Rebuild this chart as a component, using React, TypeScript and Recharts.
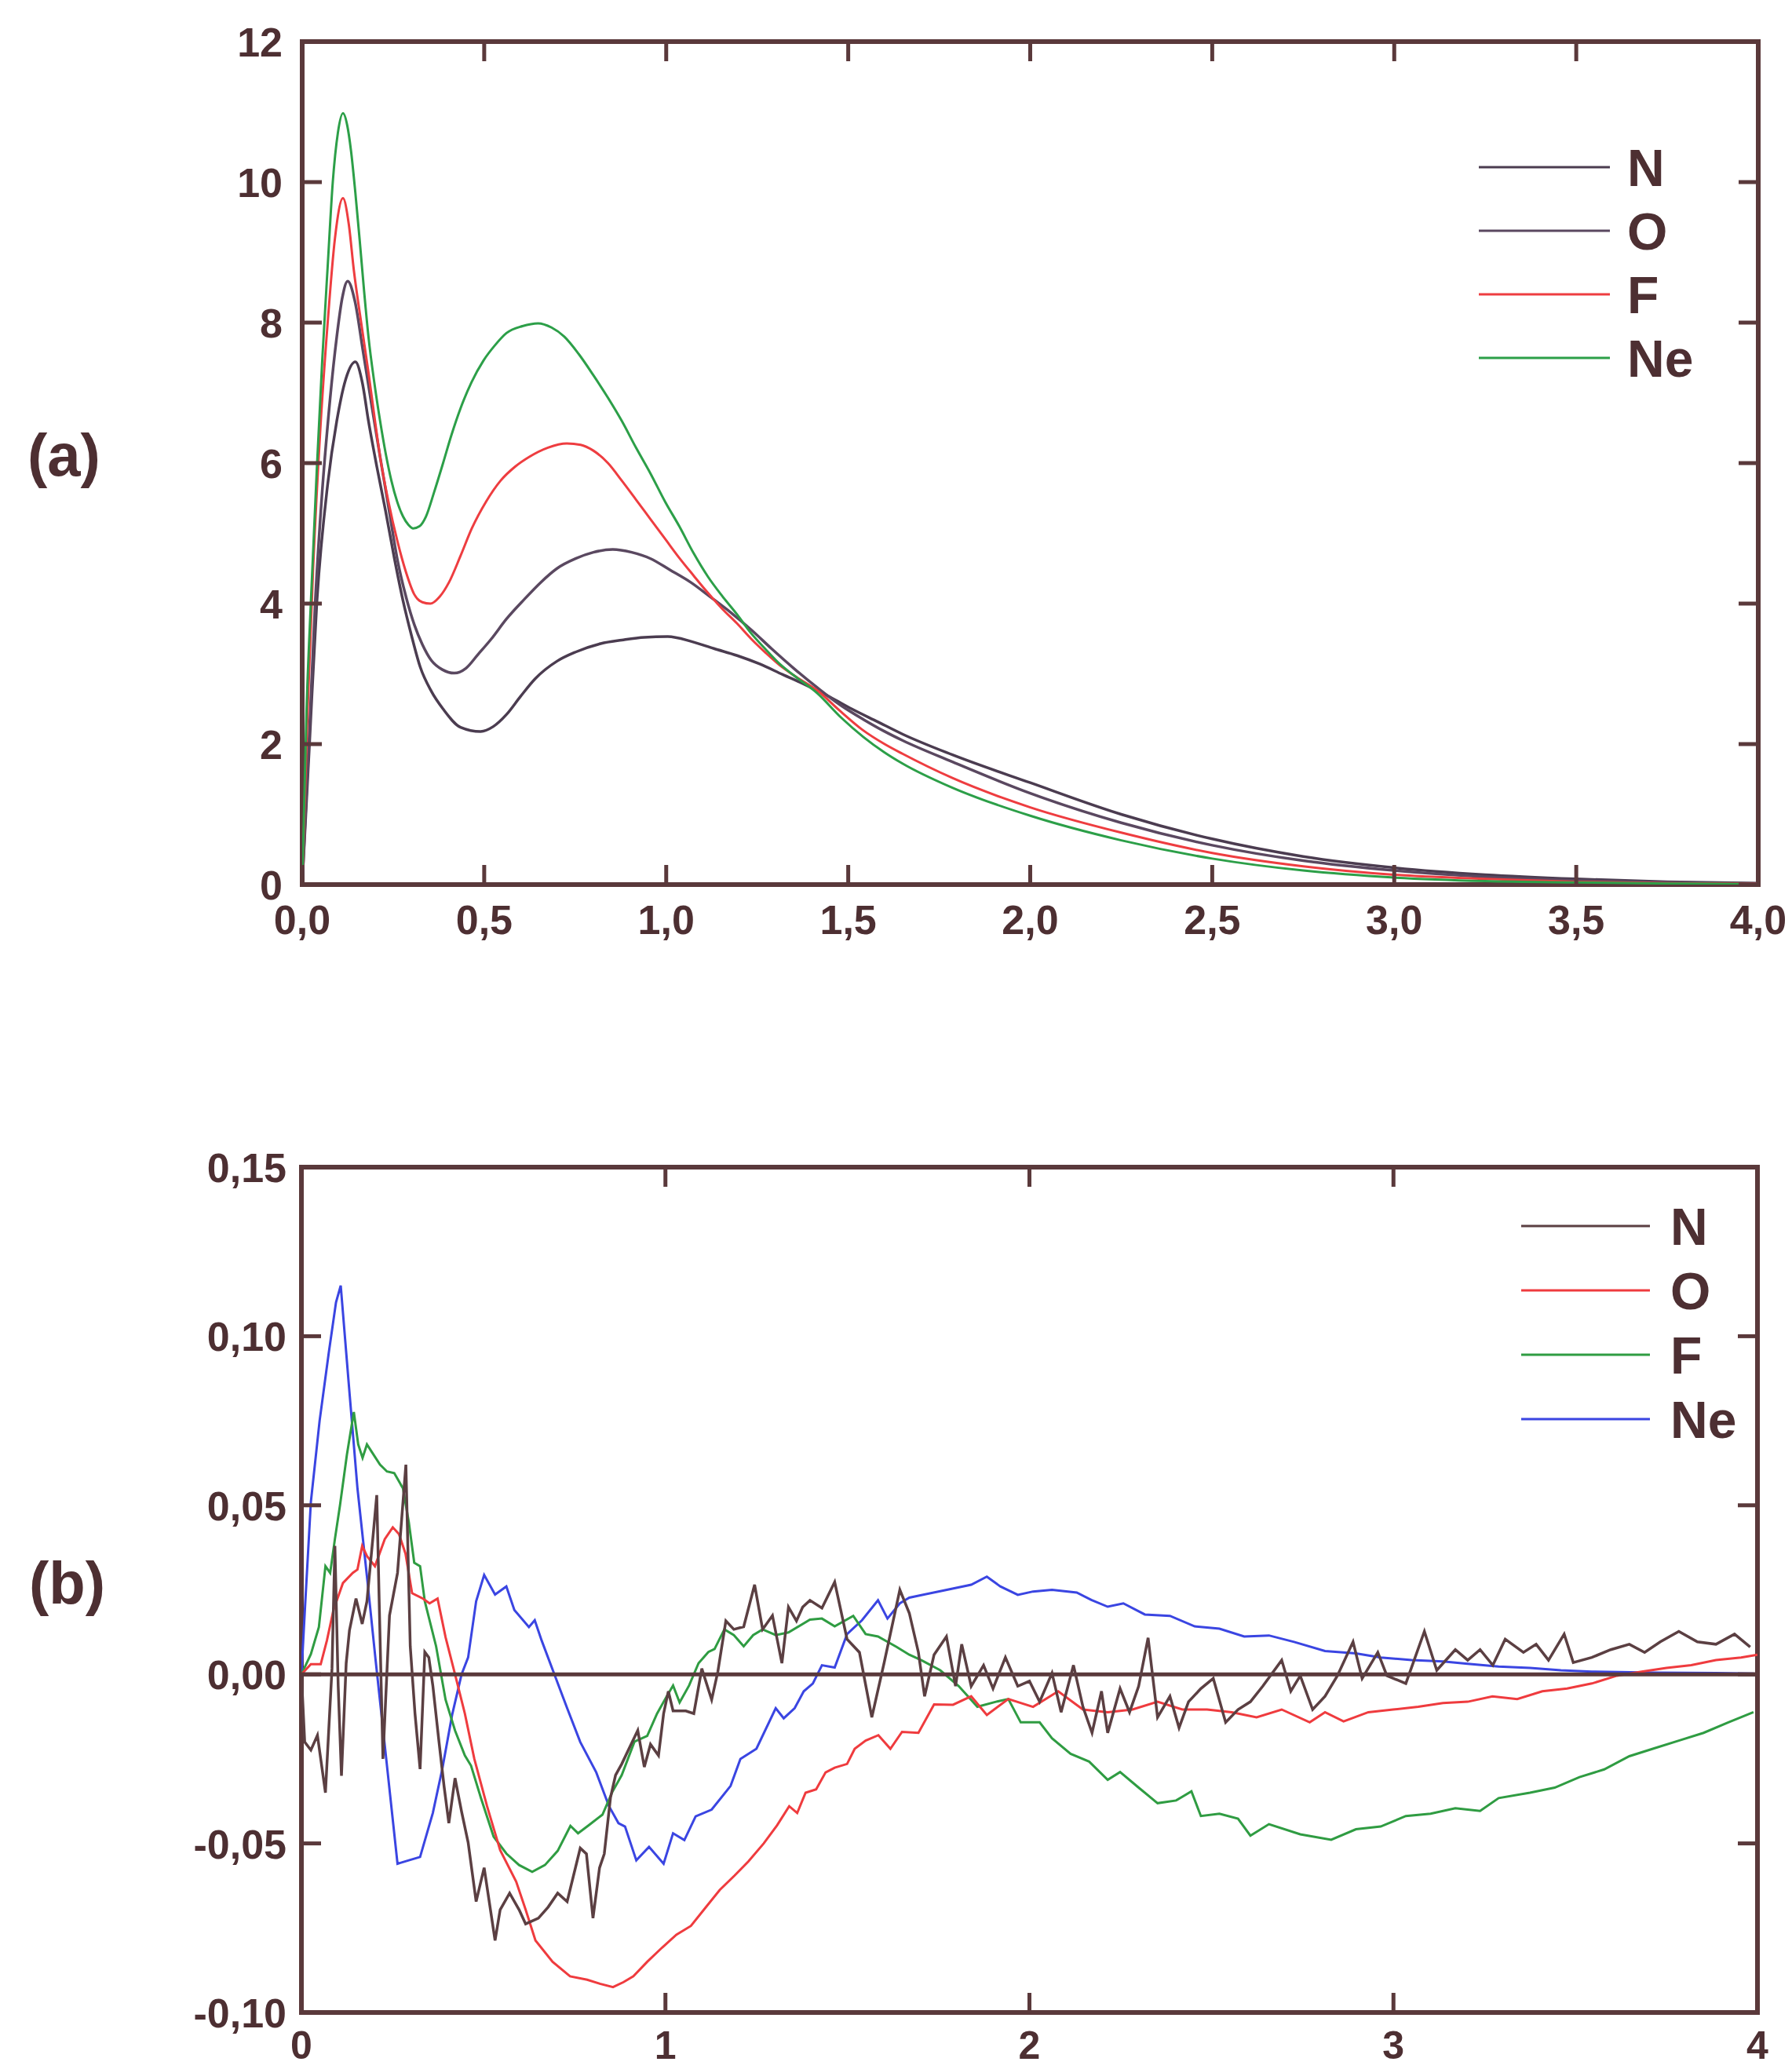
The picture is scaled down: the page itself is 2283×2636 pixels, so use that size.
import { LineChart, Line, XAxis, YAxis, ReferenceLine, ReferenceArea, Legend } from 'recharts';

type Pt = [number, number];

// panel (a): radial distributions, [r, value]
const nA: Pt[] = [
  [0, 0], [0.02, 2.0], [0.04, 4.0], [0.07, 5.7], [0.095, 6.6], [0.12, 7.2], [0.146, 7.44], [0.165, 7.15],
  [0.182, 6.6], [0.205, 5.95], [0.229, 5.32], [0.253, 4.65], [0.277, 4.04], [0.3, 3.55], [0.324, 3.1],
  [0.355, 2.75], [0.387, 2.5], [0.435, 2.24], [0.49, 2.18], [0.525, 2.25], [0.561, 2.42], [0.6, 2.68],
  [0.64, 2.93], [0.7, 3.18], [0.751, 3.31], [0.82, 3.43], [0.878, 3.48], [0.94, 3.52], [1.004, 3.53],
  [1.07, 3.46], [1.131, 3.36], [1.195, 3.26], [1.257, 3.14], [1.32, 2.99], [1.384, 2.84], [1.45, 2.67],
  [1.51, 2.5], [1.58, 2.32], [1.65, 2.14], [1.785, 1.85], [2.0, 1.45], [2.25, 1.0], [2.5, 0.65],
  [2.75, 0.4], [3.0, 0.24], [3.25, 0.14], [3.5, 0.08], [3.75, 0.04], [4.0, 0.02],
];
const oA: Pt[] = [
  [0, 0], [0.02, 2.2], [0.036, 4.04], [0.055, 5.6], [0.071, 6.6], [0.095, 7.8], [0.11, 8.35], [0.125, 8.59],
  [0.145, 8.3], [0.166, 7.63], [0.19, 6.85], [0.214, 6.09], [0.238, 5.35], [0.261, 4.64], [0.285, 4.1],
  [0.308, 3.7], [0.33, 3.42], [0.355, 3.19], [0.385, 3.06], [0.418, 3.01], [0.45, 3.08], [0.482, 3.27],
  [0.52, 3.5], [0.561, 3.78], [0.61, 4.06], [0.655, 4.3], [0.7, 4.5], [0.751, 4.64], [0.8, 4.73],
  [0.853, 4.77], [0.905, 4.73], [0.957, 4.64], [1.01, 4.48], [1.068, 4.3], [1.12, 4.1], [1.178, 3.87],
  [1.235, 3.62], [1.289, 3.36], [1.35, 3.08], [1.416, 2.8], [1.48, 2.55], [1.542, 2.35], [1.6, 2.18],
  [1.65, 2.05], [1.785, 1.75], [2.0, 1.3], [2.25, 0.88], [2.5, 0.56], [2.75, 0.34], [3.0, 0.2],
  [3.25, 0.11], [3.5, 0.06], [3.75, 0.03], [4.0, 0.015],
];
const fA: Pt[] = [
  [0, 0], [0.015, 2.5], [0.03, 4.5], [0.05, 6.5], [0.07, 8.0], [0.09, 9.2], [0.112, 9.77], [0.128, 9.4],
  [0.142, 8.74], [0.162, 8.0], [0.182, 7.29], [0.2, 6.6], [0.214, 6.09], [0.237, 5.45], [0.261, 4.9],
  [0.285, 4.45], [0.308, 4.13], [0.33, 4.02], [0.352, 4.0], [0.378, 4.1], [0.403, 4.3], [0.435, 4.68],
  [0.466, 5.07], [0.505, 5.45], [0.545, 5.75], [0.585, 5.95], [0.624, 6.09], [0.675, 6.22], [0.727, 6.28],
  [0.765, 6.26], [0.799, 6.18], [0.84, 6.0], [0.878, 5.75], [0.917, 5.48], [0.957, 5.2], [1.0, 4.9],
  [1.036, 4.65], [1.075, 4.4], [1.115, 4.15], [1.155, 3.92], [1.194, 3.72], [1.233, 3.5], [1.273, 3.3],
  [1.31, 3.13], [1.35, 2.98], [1.416, 2.76], [1.478, 2.47], [1.54, 2.2], [1.6, 2.0], [1.65, 1.86],
  [1.785, 1.52], [2.0, 1.1], [2.25, 0.74], [2.5, 0.45], [2.75, 0.26], [3.0, 0.14], [3.25, 0.08],
  [3.5, 0.04], [3.75, 0.02], [4.0, 0.01],
];
const neA: Pt[] = [
  [0, 0], [0.012, 2.5], [0.024, 4.04], [0.04, 5.9], [0.055, 7.46], [0.07, 8.8], [0.084, 10.0], [0.098, 10.7],
  [0.112, 10.98], [0.124, 10.8], [0.134, 10.45], [0.146, 9.85], [0.158, 9.17], [0.17, 8.45], [0.182, 7.8],
  [0.198, 7.15], [0.214, 6.6], [0.23, 6.12], [0.245, 5.75], [0.261, 5.45], [0.277, 5.24], [0.292, 5.12],
  [0.305, 5.07], [0.322, 5.1], [0.34, 5.24], [0.362, 5.58], [0.387, 6.0], [0.41, 6.4], [0.435, 6.78],
  [0.465, 7.15], [0.498, 7.46], [0.53, 7.68], [0.561, 7.85], [0.605, 7.95], [0.648, 7.99], [0.685, 7.93],
  [0.72, 7.8], [0.76, 7.55], [0.8, 7.25], [0.84, 6.93], [0.878, 6.6], [0.917, 6.22], [0.957, 5.85],
  [0.997, 5.45], [1.036, 5.1], [1.075, 4.72], [1.115, 4.38], [1.155, 4.1], [1.194, 3.85], [1.233, 3.58],
  [1.273, 3.35], [1.31, 3.15], [1.35, 2.98], [1.416, 2.72], [1.48, 2.38], [1.542, 2.1], [1.6, 1.88],
  [1.65, 1.72], [1.785, 1.38], [2.0, 0.98], [2.25, 0.63], [2.5, 0.37], [2.75, 0.2], [3.0, 0.1],
  [3.25, 0.05], [3.5, 0.03], [3.75, 0.015], [4.0, 0.005],
];

// panel (b): differences, [r, value]
const nB: Pt[] = [
  [0, 0], [0.009, -0.02], [0.026, -0.0224], [0.044, -0.018], [0.066, -0.035], [0.084, 0.0017], [0.092, 0.038],
  [0.101, -0.0033], [0.11, -0.03], [0.123, 0.0033], [0.132, 0.013], [0.15, 0.0224], [0.167, 0.0149],
  [0.18, 0.0216], [0.198, 0.0423], [0.207, 0.053], [0.214, 0.02], [0.224, -0.025], [0.242, 0.0174],
  [0.264, 0.03], [0.287, 0.062], [0.299, 0.0083], [0.312, -0.0116], [0.326, -0.028], [0.339, 0.0066],
  [0.35, 0.005], [0.361, -0.0033], [0.378, -0.02], [0.392, -0.0332], [0.405, -0.044], [0.422, -0.0307],
  [0.44, -0.0406], [0.458, -0.0497], [0.48, -0.0672], [0.502, -0.0572], [0.532, -0.0787], [0.546, -0.0696],
  [0.572, -0.0647], [0.598, -0.0696], [0.616, -0.0738], [0.651, -0.0721], [0.678, -0.0688], [0.704, -0.0647],
  [0.73, -0.0672], [0.766, -0.0514], [0.783, -0.0531], [0.801, -0.0721], [0.819, -0.0572], [0.832, -0.0531],
  [0.849, -0.0365], [0.863, -0.0298], [0.88, -0.0265], [0.898, -0.0224], [0.924, -0.0166], [0.942, -0.0274],
  [0.959, -0.0207], [0.981, -0.024], [0.995, -0.0116], [1.008, -0.005], [1.021, -0.0108], [1.056, -0.0108],
  [1.078, -0.0116], [1.1, 0.0017], [1.127, -0.0075], [1.144, 0.0008], [1.166, 0.0158], [1.188, 0.0133],
  [1.215, 0.0141], [1.245, 0.0265], [1.267, 0.0133], [1.294, 0.0174], [1.32, 0.0033], [1.338, 0.0199],
  [1.36, 0.0158], [1.377, 0.0199], [1.397, 0.0219], [1.43, 0.0196], [1.465, 0.0273], [1.499, 0.0104],
  [1.533, 0.0065], [1.567, -0.0127], [1.601, 0.0035], [1.644, 0.025], [1.67, 0.0181], [1.695, 0.0065],
  [1.712, -0.0065], [1.738, 0.0058], [1.772, 0.0112], [1.797, -0.0035], [1.814, 0.0089], [1.84, -0.0035],
  [1.874, 0.0027], [1.9, -0.0042], [1.934, 0.005], [1.968, -0.0035], [2.0, -0.002], [2.028, -0.0081],
  [2.062, 0.0004], [2.087, -0.0112], [2.121, 0.0027], [2.147, -0.0096], [2.172, -0.0173], [2.198, -0.005],
  [2.215, -0.0173], [2.249, -0.0042], [2.275, -0.0112], [2.3, -0.0035], [2.326, 0.0108], [2.352, -0.0127],
  [2.386, -0.0065], [2.411, -0.0158], [2.437, -0.0081], [2.471, -0.0042], [2.505, -0.0012], [2.539, -0.0142],
  [2.573, -0.0104], [2.607, -0.0081], [2.641, -0.0035], [2.693, 0.0042], [2.718, -0.005], [2.744, -0.0004],
  [2.778, -0.0104], [2.812, -0.0065], [2.846, -0.0004], [2.889, 0.0096], [2.914, -0.0012], [2.957, 0.0065],
  [2.982, -0.0004], [3.034, -0.0027], [3.085, 0.0127], [3.119, 0.0012], [3.17, 0.0073], [3.204, 0.0042],
  [3.238, 0.0073], [3.273, 0.0027], [3.307, 0.0104], [3.357, 0.0065], [3.392, 0.0089], [3.426, 0.0042],
  [3.469, 0.0119], [3.494, 0.0035], [3.545, 0.005], [3.597, 0.0073], [3.648, 0.0089], [3.69, 0.0065],
  [3.733, 0.0096], [3.784, 0.0127], [3.835, 0.0096], [3.886, 0.0089], [3.937, 0.0119], [3.98, 0.0081],
];
const oB: Pt[] = [
  [0, 0], [0.026, 0.003], [0.053, 0.003], [0.07, 0.01], [0.088, 0.019], [0.114, 0.027], [0.141, 0.03],
  [0.154, 0.031], [0.167, 0.038], [0.18, 0.035], [0.202, 0.032], [0.229, 0.04], [0.251, 0.0435],
  [0.268, 0.0415], [0.286, 0.0357], [0.304, 0.024], [0.334, 0.0224], [0.352, 0.021], [0.374, 0.0224],
  [0.396, 0.011], [0.422, 0], [0.449, -0.0116], [0.475, -0.025], [0.51, -0.039], [0.546, -0.052],
  [0.59, -0.0613], [0.616, -0.0696], [0.643, -0.0787], [0.69, -0.085], [0.738, -0.0893], [0.785, -0.0903],
  [0.82, -0.0915], [0.856, -0.0925], [0.885, -0.091], [0.912, -0.0893], [0.95, -0.085], [0.991, -0.0808],
  [1.03, -0.077], [1.07, -0.0744], [1.11, -0.069], [1.149, -0.0638], [1.19, -0.0595], [1.228, -0.0553],
  [1.27, -0.05], [1.307, -0.0446], [1.34, -0.039], [1.362, -0.041], [1.385, -0.035], [1.414, -0.034],
  [1.44, -0.029], [1.465, -0.0276], [1.499, -0.0265], [1.52, -0.022], [1.55, -0.0196], [1.585, -0.018],
  [1.618, -0.022], [1.65, -0.017], [1.695, -0.0173], [1.738, -0.0089], [1.79, -0.009], [1.84, -0.0065],
  [1.883, -0.012], [1.942, -0.0073], [2.01, -0.0096], [2.079, -0.005], [2.147, -0.0104], [2.215, -0.0112],
  [2.283, -0.0104], [2.352, -0.0081], [2.42, -0.0104], [2.488, -0.0104], [2.556, -0.0112], [2.624, -0.0127],
  [2.693, -0.0104], [2.77, -0.0142], [2.812, -0.0112], [2.863, -0.0139], [2.931, -0.0112], [2.999, -0.0104],
  [3.068, -0.0096], [3.136, -0.0085], [3.204, -0.0081], [3.272, -0.0065], [3.34, -0.0073], [3.409, -0.005],
  [3.477, -0.0042], [3.545, -0.0027], [3.614, -0.0004], [3.682, 0.0008], [3.75, 0.0019], [3.818, 0.0027],
  [3.886, 0.0042], [3.955, 0.005], [4.0, 0.0058],
];
const fB: Pt[] = [
  [0, 0], [0.026, 0.006], [0.048, 0.014], [0.066, 0.032], [0.079, 0.03], [0.092, 0.04], [0.106, 0.05],
  [0.125, 0.065], [0.144, 0.0776], [0.156, 0.068], [0.168, 0.064], [0.18, 0.068], [0.192, 0.066],
  [0.216, 0.062], [0.235, 0.06], [0.255, 0.0595], [0.279, 0.055], [0.295, 0.045], [0.31, 0.033],
  [0.326, 0.032], [0.339, 0.0216], [0.37, 0.0083], [0.396, -0.0075], [0.422, -0.0166], [0.449, -0.024],
  [0.466, -0.027], [0.493, -0.0365], [0.528, -0.048], [0.563, -0.053], [0.598, -0.0564], [0.634, -0.0584],
  [0.669, -0.0564], [0.704, -0.0522], [0.739, -0.0448], [0.76, -0.047], [0.792, -0.0444], [0.827, -0.0415],
  [0.854, -0.0348], [0.88, -0.0298], [0.915, -0.0199], [0.95, -0.0182], [0.977, -0.0116], [1.003, -0.0066],
  [1.021, -0.0033], [1.039, -0.0083], [1.065, -0.0033], [1.091, 0.0033], [1.118, 0.0066], [1.135, 0.0075],
  [1.162, 0.0133], [1.188, 0.0116], [1.215, 0.0083], [1.241, 0.0116], [1.267, 0.0133], [1.303, 0.0116],
  [1.338, 0.0124], [1.397, 0.0162], [1.43, 0.0165], [1.465, 0.0142], [1.516, 0.0173], [1.55, 0.0119],
  [1.584, 0.0112], [1.635, 0.0081], [1.67, 0.0058], [1.703, 0.0042], [1.755, 0.0012], [1.806, -0.0035],
  [1.857, -0.0096], [1.908, -0.0081], [1.942, -0.0073], [1.976, -0.0142], [2.028, -0.0142], [2.062, -0.0189],
  [2.113, -0.0235], [2.164, -0.0258], [2.215, -0.0312], [2.249, -0.0289], [2.3, -0.0335], [2.352, -0.0381],
  [2.403, -0.0373], [2.445, -0.0346], [2.471, -0.0419], [2.522, -0.0412], [2.573, -0.0427], [2.607, -0.0477],
  [2.658, -0.0443], [2.744, -0.0473], [2.829, -0.0489], [2.897, -0.0458], [2.965, -0.045], [3.034, -0.0419],
  [3.102, -0.0412], [3.17, -0.0396], [3.238, -0.0404], [3.289, -0.0366], [3.375, -0.035], [3.443, -0.0335],
  [3.511, -0.0304], [3.579, -0.0281], [3.648, -0.0242], [3.716, -0.0219], [3.784, -0.0196], [3.852, -0.0173],
  [3.92, -0.0142], [3.989, -0.0112],
];
const neB: Pt[] = [
  [0, 0], [0.01, 0.02], [0.026, 0.051], [0.05, 0.075], [0.075, 0.095], [0.095, 0.11], [0.108, 0.115],
  [0.13, 0.086], [0.154, 0.055], [0.18, 0.029], [0.204, 0.004], [0.229, -0.021], [0.264, -0.056],
  [0.295, -0.055], [0.326, -0.054], [0.361, -0.041], [0.387, -0.028], [0.414, -0.012], [0.44, 0],
  [0.458, 0.005], [0.48, 0.0216], [0.502, 0.0294], [0.532, 0.0236], [0.563, 0.026], [0.585, 0.019],
  [0.625, 0.014], [0.641, 0.016], [0.66, 0.01], [0.695, 0.0], [0.73, -0.01], [0.766, -0.02], [0.81, -0.029],
  [0.845, -0.039], [0.871, -0.044], [0.889, -0.045], [0.92, -0.055], [0.955, -0.051], [0.995, -0.056],
  [1.021, -0.047], [1.052, -0.049], [1.083, -0.042], [1.127, -0.04], [1.179, -0.033], [1.206, -0.025],
  [1.25, -0.022], [1.303, -0.01], [1.325, -0.013], [1.355, -0.01], [1.38, -0.005], [1.405, -0.0027],
  [1.43, 0.0027], [1.465, 0.002], [1.499, 0.0119], [1.54, 0.016], [1.584, 0.0219], [1.61, 0.0165],
  [1.644, 0.021], [1.67, 0.0227], [1.755, 0.0246], [1.84, 0.0265], [1.883, 0.0289], [1.92, 0.026],
  [1.968, 0.0235], [2.01, 0.0245], [2.062, 0.025], [2.13, 0.0242], [2.17, 0.022], [2.215, 0.02],
  [2.258, 0.021], [2.317, 0.0177], [2.386, 0.0173], [2.454, 0.0142], [2.522, 0.0135], [2.59, 0.0112],
  [2.658, 0.0115], [2.727, 0.0096], [2.812, 0.0069], [2.897, 0.0062], [2.965, 0.005], [3.05, 0.0042],
  [3.136, 0.0038], [3.204, 0.0031], [3.289, 0.0023], [3.375, 0.0019], [3.46, 0.0012], [3.545, 0.0008],
  [3.716, 0.0005], [3.886, 0.0004], [3.99, 0.0002],
];

const ticksAX = [0, 0.5, 1, 1.5, 2, 2.5, 3, 3.5, 4];
const ticksAY = [0, 2, 4, 6, 8, 10, 12];
const ticksBX = [0, 1, 2, 3, 4];
const ticksBY = [-0.1, -0.05, 0, 0.05, 0.1, 0.15];
const namesOrder = ['N', 'O', 'F', 'Ne'];

const FRAME = '#5a393b';
const INK = '#4d2f32';
const FONT = '"Liberation Sans", Arial, sans-serif';
const TICK_LEN = 25;

const rows = (pts: Pt[]) => pts.map(([r, v]) => ({ r, v }));
const comma = (digits: number) => (v: number) => v.toFixed(digits).replace('.', ',');

// x ticks: inward marks on bottom and top edges, label under the bottom edge
const xTick = (top: number, bottom: number, baseline: number, size: number, fmt: (v: number) => string) =>
  (props: any) => {
    const { x, payload } = props;
    return (
      <g>
        <line x1={x} x2={x} y1={bottom} y2={bottom - TICK_LEN} stroke={FRAME} strokeWidth={5} />
        <line x1={x} x2={x} y1={top} y2={top + TICK_LEN} stroke={FRAME} strokeWidth={5} />
        <text x={x} y={baseline} textAnchor="middle" fontSize={size} fontWeight={700} fill={INK} fontFamily={FONT}>
          {fmt(payload.value)}
        </text>
      </g>
    );
  };

// y ticks: inward marks on left and right edges, label left of the frame
const yTick = (left: number, right: number, labelRight: number, fmt: (v: number) => string) =>
  (props: any) => {
    const { y, payload } = props;
    return (
      <g>
        <line x1={left} x2={left + TICK_LEN} y1={y} y2={y} stroke={FRAME} strokeWidth={5} />
        <line x1={right} x2={right - TICK_LEN} y1={y} y2={y} stroke={FRAME} strokeWidth={5} />
        <text x={labelRight} y={y + 19} textAnchor="end" fontSize={52} fontWeight={700} fill={INK} fontFamily={FONT}>
          {fmt(payload.value)}
        </text>
      </g>
    );
  };

// legend: short line + bold element symbol per row
function KeyBox(props: any) {
  const items = [...(props.payload || [])].sort(
    (a: any, b: any) => namesOrder.indexOf(a.value) - namesOrder.indexOf(b.value),
  );
  const { lineLen, textX, gap } = props;
  return (
    <svg width={textX + 130} height={gap * 4 + 20}>
      {items.map((it: any, i: number) => {
        const cy = 40 + i * gap;
        return (
          <g key={it.value}>
            <line x1={0} x2={lineLen} y1={cy} y2={cy} stroke={it.color} strokeWidth={3} />
            <text x={textX} y={cy + 24} fontSize={66} fontWeight={700} fill={INK} fontFamily={FONT}>
              {it.value}
            </text>
          </g>
        );
      })}
    </svg>
  );
}

export default function App() {
  return (
    <div style={{ position: 'absolute', left: 0, top: 0, width: 2283, height: 2636, background: '#fff', fontFamily: FONT }}>
      <svg width={2283} height={2636} style={{ position: 'absolute', left: 0, top: 0 }}>
        <text x={35} y={606} fontSize={76} fontWeight={700} fill={INK} fontFamily={FONT}>(a)</text>
        <text x={37} y={2043} fontSize={76} fontWeight={700} fill={INK} fontFamily={FONT}>(b)</text>
      </svg>

      <div style={{ position: 'absolute', left: 0, top: 0 }}>
        <LineChart width={2283} height={1230} margin={{ top: 53, right: 43, left: 285, bottom: 23 }}>
          <XAxis type="number" dataKey="r" domain={[0, 4]} ticks={ticksAX} interval={0}
            tick={xTick(53, 1127, 1190, 52, comma(1))} axisLine={false} tickLine={false}
            height={80} allowDataOverflow />
          <YAxis type="number" domain={[0, 12]} ticks={ticksAY} interval={0}
            tick={yTick(385, 2240, 360, comma(0))} axisLine={false} tickLine={false}
            width={100} allowDataOverflow />
          <ReferenceArea x1={0} x2={4} y1={0} y2={12} fill="none" stroke={FRAME} strokeWidth={6} />
          <Legend layout="vertical" align="center" verticalAlign="middle"
            wrapperStyle={{ left: 1884, top: 173, width: 'auto' }}
            content={(p: any) => <KeyBox {...p} lineLen={167} textX={189} gap={81} />} />
          <Line name="N" data={rows(nA)} dataKey="v" type="monotone" stroke="#4b3c50" strokeWidth={3.5} dot={false} isAnimationActive={false} />
          <Line name="O" data={rows(oA)} dataKey="v" type="monotone" stroke="#5a4860" strokeWidth={3.5} dot={false} isAnimationActive={false} />
          <Line name="F" data={rows(fA)} dataKey="v" type="monotone" stroke="#ee3d40" strokeWidth={3} dot={false} isAnimationActive={false} />
          <Line name="Ne" data={rows(neA)} dataKey="v" type="monotone" stroke="#2c9f48" strokeWidth={3} dot={false} isAnimationActive={false} />
        </LineChart>
      </div>

      <div style={{ position: 'absolute', left: 0, top: 1300 }}>
        <LineChart width={2283} height={1336} margin={{ top: 187, right: 44, left: 284, bottom: 12 }}>
          <XAxis type="number" dataKey="r" domain={[0, 4]} ticks={ticksBX} interval={0}
            tick={xTick(187, 1264, 1323, 50, comma(0))} axisLine={false} tickLine={false}
            height={60} allowDataOverflow />
          <YAxis type="number" domain={[-0.1, 0.15]} ticks={ticksBY} interval={0}
            tick={yTick(384, 2239, 365, comma(2))} axisLine={false} tickLine={false}
            width={100} allowDataOverflow />
          <ReferenceArea x1={0} x2={4} y1={-0.1} y2={0.15} fill="none" stroke={FRAME} strokeWidth={6} />
          <Legend layout="vertical" align="center" verticalAlign="middle"
            wrapperStyle={{ left: 1938, top: 222, width: 'auto' }}
            content={(p: any) => <KeyBox {...p} lineLen={164} textX={190} gap={82} />} />
          <Line name="Ne" data={rows(neB)} dataKey="v" type="linear" stroke="#3a45e2" strokeWidth={3} dot={false} isAnimationActive={false} />
          <Line name="F" data={rows(fB)} dataKey="v" type="linear" stroke="#2f9c42" strokeWidth={3} dot={false} isAnimationActive={false} />
          <Line name="O" data={rows(oB)} dataKey="v" type="linear" stroke="#ef3b3e" strokeWidth={3} dot={false} isAnimationActive={false} />
          <ReferenceLine y={0} stroke={FRAME} strokeWidth={5} />
          <Line name="N" data={rows(nB)} dataKey="v" type="linear" stroke="#5b3f42" strokeWidth={3.5} dot={false} isAnimationActive={false} />
        </LineChart>
      </div>
    </div>
  );
}
